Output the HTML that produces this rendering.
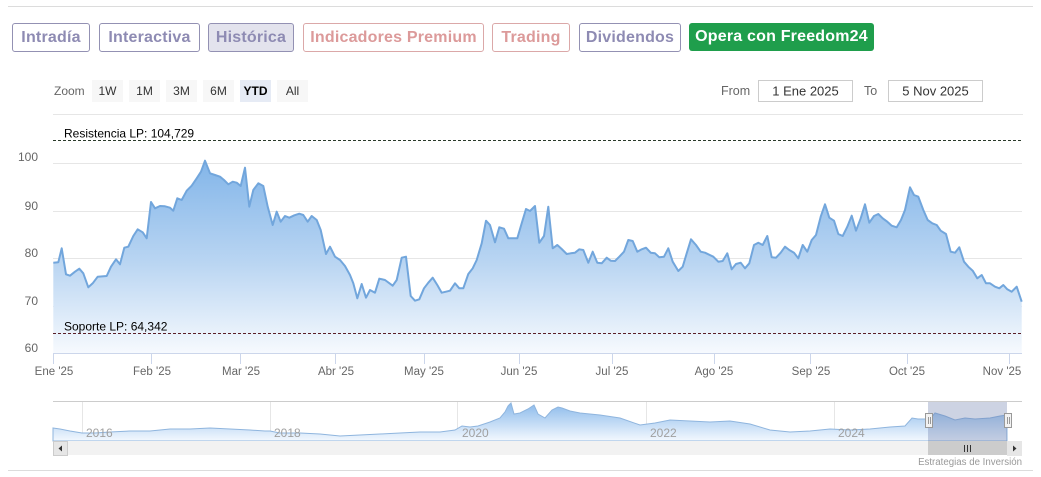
<!DOCTYPE html>
<html><head><meta charset="utf-8"><style>
html,body{margin:0;padding:0;background:#fff;}
body{width:1041px;height:477px;overflow:hidden;position:relative;font-family:"Liberation Sans",sans-serif;}
.tab{position:absolute;top:23px;height:29px;box-sizing:border-box;border:1px solid #9391b3;border-radius:3px;
font-weight:bold;font-size:16px;line-height:27px;text-align:center;color:#8e8bb3;letter-spacing:0.2px;background:#fff;white-space:nowrap;}
.pink{border-color:#dba8a8;color:#dc9a9a;}
svg{position:absolute;left:0;top:0;}
</style></head><body>
<div class="tab" style="left:12px;width:78px;">Intradía</div>
<div class="tab" style="left:99px;width:101px;">Interactiva</div>
<div class="tab" style="left:208px;width:86px;background:#e3e3ed;">Histórica</div>
<div class="tab pink" style="left:303px;width:181px;">Indicadores Premium</div>
<div class="tab pink" style="left:492px;width:78px;">Trading</div>
<div class="tab" style="left:579px;width:102px;">Dividendos</div>
<div class="tab" style="left:689px;width:185px;height:28px;border:none;background:#1f9e4c;color:#fff;line-height:28px;">Opera con Freedom24</div>

<svg width="1041" height="477" viewBox="0 0 1041 477" xmlns="http://www.w3.org/2000/svg" font-family="Liberation Sans, sans-serif">
<defs>
<linearGradient id="g1" x1="0" y1="150" x2="0" y2="354" gradientUnits="userSpaceOnUse">
<stop offset="0" stop-color="#7db2e8"/>
<stop offset="0.55" stop-color="#b9d5f2"/>
<stop offset="1" stop-color="#f7fafe"/>
</linearGradient>
<linearGradient id="g2" x1="0" y1="401" x2="0" y2="441" gradientUnits="userSpaceOnUse">
<stop offset="0" stop-color="#86b7ea"/>
<stop offset="1" stop-color="#f3f8fe"/>
</linearGradient>
</defs>
<line x1="8" y1="6.5" x2="1033" y2="6.5" stroke="#dcdcdc"/>
<line x1="8" y1="470.5" x2="1033" y2="470.5" stroke="#dcdcdc"/>

<text x="54" y="95" font-size="12" fill="#666">Zoom</text>
<g font-size="12" fill="#333" text-anchor="middle">
<rect x="92" y="80" width="31" height="22" fill="#f7f7f7"/><text x="107.5" y="95">1W</text>
<rect x="129" y="80" width="31" height="22" fill="#f7f7f7"/><text x="144.5" y="95">1M</text>
<rect x="166" y="80" width="31" height="22" fill="#f7f7f7"/><text x="181.5" y="95">3M</text>
<rect x="203" y="80" width="31" height="22" fill="#f7f7f7"/><text x="218.5" y="95">6M</text>
<rect x="240" y="80" width="31" height="22" fill="#e6ebf5"/><text x="255.5" y="95" font-weight="bold" fill="#000">YTD</text>
<rect x="277" y="80" width="31" height="22" fill="#f7f7f7"/><text x="292.5" y="95">All</text>
</g>
<text x="721" y="95" font-size="12.5" fill="#666">From</text>
<rect x="758.5" y="80.5" width="94" height="21" fill="#fff" stroke="#ccc"/>
<text x="805.5" y="95.5" font-size="13" fill="#333" text-anchor="middle">1 Ene 2025</text>
<text x="864" y="95" font-size="12.5" fill="#666">To</text>
<rect x="888.5" y="80.5" width="94" height="21" fill="#fff" stroke="#ccc"/>
<text x="935.5" y="95.5" font-size="13" fill="#333" text-anchor="middle">5 Nov 2025</text>

<g stroke="#e6e6e6" stroke-width="1">
<line x1="53" y1="114.5" x2="1023" y2="114.5"/>
<line x1="53" y1="163.5" x2="1022" y2="163.5"/>
<line x1="53" y1="211.5" x2="1022" y2="211.5"/>
<line x1="53" y1="258.5" x2="1022" y2="258.5"/>
<line x1="53" y1="306.5" x2="1022" y2="306.5"/>
</g>
<g font-size="12" fill="#666" text-anchor="end">
<text x="38" y="161">100</text>
<text x="38" y="210">90</text>
<text x="38" y="257">80</text>
<text x="38" y="305">70</text>
<text x="38" y="352">60</text>
</g>

<path fill="url(#g1)" d="M53.3,262.7 L58.3,262.3 61.7,248.3 66,274.3 70,275.7 75,271.7 79.3,268.7 83.3,273.3 88.3,287.3 92.7,283.3 97.7,276.7 106.7,276 111,266.7 116,259.3 120,264.3 124.3,247.7 128.3,246.7 133.3,236 137.7,229.3 142.7,232.3 146.7,238.3 151,202 155,208.3 160,206 165,206.3 170,207.7 173.3,210.7 177.3,198.3 181.7,200 186.7,190.7 191.7,185.7 196.7,178.3 201,171.7 205,160.7 210,173.3 215,175 220,176.7 224,180 228.3,184.3 232.7,181.7 236.7,182.7 240.7,186 245,167.7 249.3,206.7 253.3,190 258.3,183.3 263.3,186 267.7,206.7 272.7,225 276.7,211.7 280.7,221.7 285,216 289.3,217.7 294.3,215.3 299.3,213.7 303.3,215 307.7,221.7 311.7,216 316.7,220 320.7,230 326,254 330,246.7 335,256.7 340,260 345,266 350,275 353.3,283.3 357.3,298.3 361.7,284 366,297.7 370,290 375,292.7 379.3,278.7 385,280 392.7,285.7 396.7,280 401.7,257.7 406,256.7 410.7,296 415,300.7 419.3,299.3 424,288.3 428.3,282.7 432.7,277.7 437.3,285 441.7,292.7 446,291.7 450,290.7 455,283.3 459.3,288.3 463.3,288.3 468.3,274 472.7,268.3 476.7,260 481.7,243.3 486,220.7 490,225 495,242.3 499.3,227.3 504,228.7 508.3,238.3 512.7,238.3 517.3,238.3 521.7,223.3 526,209 530,211 535,206 539.3,242.7 544,236 548.3,206.7 552.7,248.3 557.3,245 561.7,249 566.7,254 570.7,253.3 575,252.7 579.3,249.3 583.3,250 588.3,262.7 592.7,251.7 597.3,262.7 601.7,263.3 606.7,257.7 610.7,260.7 615,261 619.3,256.7 624,251.7 628.3,240 632.7,241 637.3,251.7 641.7,249.3 646,247.7 650.7,252.7 655,253.3 659.3,257.3 664,256.7 668.3,248.3 672.7,261.7 678.3,271 682.7,266.7 686.7,253.3 691,239.3 696,245 700.7,251.7 705,252.7 713.3,256.7 718.3,261.7 722.7,261 727.3,253.3 731.7,269.3 736,264 740.7,262.7 745,268.3 749.3,263.3 754,245 758.3,242.7 762.7,245 767.3,236 771.7,257.3 776,257.7 780.7,252.7 785,246.7 789.3,250 794,252.7 798.3,258.3 802.7,245 807.3,251.7 811.7,240 816,235 820.7,216.7 825,204.3 829.3,217.7 834,220.7 838.3,234 842.7,236 847.3,226.7 851.7,215.7 856,230.7 860.7,218.3 865,204.3 869.3,222.7 874,216 878.3,214 882.7,218.3 887.3,221.7 891.7,225.7 896.7,227.3 901,220 905,210 910,187.3 914,195 918.3,196.7 923.3,210 927.7,220 932.3,223.3 936.7,225 940.7,230.7 946,234 950.7,251.7 955,252.7 959.3,247.3 964,261.7 968.3,266.7 972.7,270.7 977.3,278.3 981.7,275 986,283.3 990,283.3 995,286.7 999.3,288.3 1003.3,285 1007.3,289.3 1011.7,291.7 1016.7,286.7 1021.7,301.7 L1021.7,353.5 L53.3,353.5 Z"/>
<polyline fill="none" stroke="#72a6dc" stroke-width="2" stroke-linejoin="round" points="53.3,262.7 58.3,262.3 61.7,248.3 66,274.3 70,275.7 75,271.7 79.3,268.7 83.3,273.3 88.3,287.3 92.7,283.3 97.7,276.7 106.7,276 111,266.7 116,259.3 120,264.3 124.3,247.7 128.3,246.7 133.3,236 137.7,229.3 142.7,232.3 146.7,238.3 151,202 155,208.3 160,206 165,206.3 170,207.7 173.3,210.7 177.3,198.3 181.7,200 186.7,190.7 191.7,185.7 196.7,178.3 201,171.7 205,160.7 210,173.3 215,175 220,176.7 224,180 228.3,184.3 232.7,181.7 236.7,182.7 240.7,186 245,167.7 249.3,206.7 253.3,190 258.3,183.3 263.3,186 267.7,206.7 272.7,225 276.7,211.7 280.7,221.7 285,216 289.3,217.7 294.3,215.3 299.3,213.7 303.3,215 307.7,221.7 311.7,216 316.7,220 320.7,230 326,254 330,246.7 335,256.7 340,260 345,266 350,275 353.3,283.3 357.3,298.3 361.7,284 366,297.7 370,290 375,292.7 379.3,278.7 385,280 392.7,285.7 396.7,280 401.7,257.7 406,256.7 410.7,296 415,300.7 419.3,299.3 424,288.3 428.3,282.7 432.7,277.7 437.3,285 441.7,292.7 446,291.7 450,290.7 455,283.3 459.3,288.3 463.3,288.3 468.3,274 472.7,268.3 476.7,260 481.7,243.3 486,220.7 490,225 495,242.3 499.3,227.3 504,228.7 508.3,238.3 512.7,238.3 517.3,238.3 521.7,223.3 526,209 530,211 535,206 539.3,242.7 544,236 548.3,206.7 552.7,248.3 557.3,245 561.7,249 566.7,254 570.7,253.3 575,252.7 579.3,249.3 583.3,250 588.3,262.7 592.7,251.7 597.3,262.7 601.7,263.3 606.7,257.7 610.7,260.7 615,261 619.3,256.7 624,251.7 628.3,240 632.7,241 637.3,251.7 641.7,249.3 646,247.7 650.7,252.7 655,253.3 659.3,257.3 664,256.7 668.3,248.3 672.7,261.7 678.3,271 682.7,266.7 686.7,253.3 691,239.3 696,245 700.7,251.7 705,252.7 713.3,256.7 718.3,261.7 722.7,261 727.3,253.3 731.7,269.3 736,264 740.7,262.7 745,268.3 749.3,263.3 754,245 758.3,242.7 762.7,245 767.3,236 771.7,257.3 776,257.7 780.7,252.7 785,246.7 789.3,250 794,252.7 798.3,258.3 802.7,245 807.3,251.7 811.7,240 816,235 820.7,216.7 825,204.3 829.3,217.7 834,220.7 838.3,234 842.7,236 847.3,226.7 851.7,215.7 856,230.7 860.7,218.3 865,204.3 869.3,222.7 874,216 878.3,214 882.7,218.3 887.3,221.7 891.7,225.7 896.7,227.3 901,220 905,210 910,187.3 914,195 918.3,196.7 923.3,210 927.7,220 932.3,223.3 936.7,225 940.7,230.7 946,234 950.7,251.7 955,252.7 959.3,247.3 964,261.7 968.3,266.7 972.7,270.7 977.3,278.3 981.7,275 986,283.3 990,283.3 995,286.7 999.3,288.3 1003.3,285 1007.3,289.3 1011.7,291.7 1016.7,286.7 1021.7,301.7"/>

<line x1="53" y1="140.5" x2="1022" y2="140.5" stroke="#2a3a2a" stroke-width="1" stroke-dasharray="3,2"/>
<line x1="53" y1="333.5" x2="1022" y2="333.5" stroke="#5a1f28" stroke-width="1" stroke-dasharray="3,2"/>
<text x="64" y="137.5" font-size="12" fill="#000">Resistencia LP: 104,729</text>
<text x="64" y="330.5" font-size="12" fill="#000">Soporte LP: 64,342</text>

<line x1="53" y1="353.5" x2="1022" y2="353.5" stroke="#ccd6eb"/>
<g stroke="#ccd6eb">
<line x1="53.5" y1="353" x2="53.5" y2="364"/>
<line x1="151.5" y1="353" x2="151.5" y2="364"/>
<line x1="240.5" y1="353" x2="240.5" y2="364"/>
<line x1="335.5" y1="353" x2="335.5" y2="364"/>
<line x1="424.5" y1="353" x2="424.5" y2="364"/>
<line x1="519.5" y1="353" x2="519.5" y2="364"/>
<line x1="612.5" y1="353" x2="612.5" y2="364"/>
<line x1="714.5" y1="353" x2="714.5" y2="364"/>
<line x1="810.5" y1="353" x2="810.5" y2="364"/>
<line x1="907.5" y1="353" x2="907.5" y2="364"/>
<line x1="1009.5" y1="353" x2="1009.5" y2="364"/>
</g>
<g font-size="11.5" fill="#666" text-anchor="middle">
<text x="54" y="375">Ene '25</text>
<text x="152" y="375">Feb '25</text>
<text x="241" y="375">Mar '25</text>
<text x="336" y="375">Abr '25</text>
<text x="424" y="375">May '25</text>
<text x="519" y="375">Jun '25</text>
<text x="612" y="375">Jul '25</text>
<text x="714" y="375">Ago '25</text>
<text x="811" y="375">Sep '25</text>
<text x="907" y="375">Oct '25</text>
<text x="1002" y="375">Nov '25</text>
</g>

<g stroke="#e6e6e6">
<line x1="82.5" y1="401" x2="82.5" y2="441"/>
<line x1="270.5" y1="401" x2="270.5" y2="441"/>
<line x1="457.5" y1="401" x2="457.5" y2="441"/>
<line x1="646.5" y1="401" x2="646.5" y2="441"/>
<line x1="834.5" y1="401" x2="834.5" y2="441"/>
</g>
<path fill="url(#g2)" stroke="#8fb5de" stroke-width="1" d="M53,428 L60,429 70,431 82,433 95,433 110,432 130,431 150,431 170,429 190,429 210,428 230,429 250,430 265,431 270,431 280,433 300,433 320,434 340,436 360,435 380,434 400,433 420,432 440,432 455,430 462,426 470,427 478,426 490,422 500,418 505,412 508,406 511,403 514,414 520,413 528,409 534,405 538,414 545,418 552,410 558,407 562,408 570,411 580,413 600,415 620,418 640,425 655,423 670,420 690,421 710,422 730,421 750,424 770,430 790,432 810,431 830,429 850,430 870,429 890,427 905,426 912,418 918,419 925,419 930,419 935,413 945,416 955,420 965,418 975,419 990,418 1000,416 1007,415 L1007,441 L53,441 Z"/>
<g font-size="12" fill="#a0a0a0">
<text x="86" y="437">2016</text>
<text x="274" y="437">2018</text>
<text x="462" y="437">2020</text>
<text x="650" y="437">2022</text>
<text x="838" y="437">2024</text>
</g>
<rect x="928" y="401" width="79" height="40" fill="rgba(102,120,170,0.33)"/>
<line x1="53" y1="401.5" x2="1022" y2="401.5" stroke="#cccccc"/>
<g fill="#f2f2f2" stroke="#999" stroke-width="1">
<rect x="925.5" y="413.5" width="7" height="14"/>
<rect x="1004.5" y="413.5" width="7" height="14"/>
</g>
<g stroke="#999" stroke-width="1">
<line x1="928.5" y1="417" x2="928.5" y2="424"/><line x1="930.5" y1="417" x2="930.5" y2="424"/>
<line x1="1007.5" y1="417" x2="1007.5" y2="424"/><line x1="1009.5" y1="417" x2="1009.5" y2="424"/>
</g>
<rect x="53" y="441" width="969" height="14" fill="#f2f2f2"/>
<rect x="53.5" y="441.5" width="14" height="14" fill="#e6e6e6" stroke="#cccccc"/>
<path d="M62,445.5 L58.5,448.5 L62,451.5 Z" fill="#333"/>
<rect x="928" y="441" width="79" height="14" fill="#cccccc"/>
<g stroke="#333" stroke-width="1">
<line x1="964.5" y1="445" x2="964.5" y2="452"/><line x1="967.5" y1="445" x2="967.5" y2="452"/><line x1="970.5" y1="445" x2="970.5" y2="452"/>
</g>
<rect x="1007.5" y="441.5" width="14" height="14" fill="#e6e6e6" stroke="#e6e6e6"/>
<path d="M1013,445.5 L1016.5,448.5 L1013,451.5 Z" fill="#333"/>
<text x="1022" y="465" font-size="9.7" fill="#999" text-anchor="end">Estrategias de Inversión</text>
</svg>
</body></html>
